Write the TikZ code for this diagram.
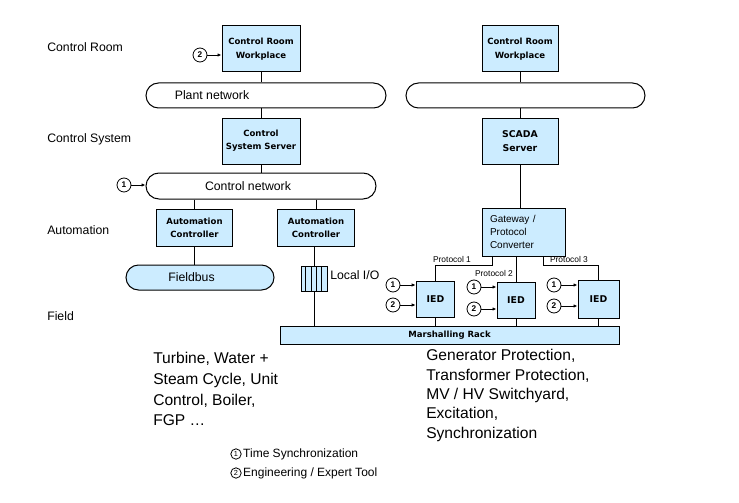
\documentclass[tikz,border=0pt]{standalone}
\usepackage{fontspec}
\setmainfont{Liberation Sans}
\newfontfamily\heavyfont{DejaVu Sans}
\usepackage{tikz}
\usetikzlibrary{arrows.meta,shapes.misc}
\definecolor{boxblue}{RGB}{204,236,255}
\newcommand{\boxfont}{\heavyfont\bfseries\fontsize{6.4}{10}\selectfont}
\newcommand{\lblfont}{\fontsize{9.2}{11}\selectfont}
\tikzset{
  unit/.style={draw, line width=0.75pt, fill=boxblue, align=center, font=\boxfont, inner sep=1pt},
  bigunit/.style={unit, minimum width=58.5pt, minimum height=34.5pt},
  ctlunit/.style={unit, minimum width=57.5pt, minimum height=27.75pt},
  iedunit/.style={unit, minimum width=29pt, minimum height=27pt, font=\heavyfont\bfseries\fontsize{7}{8}\selectfont},
  net/.style={draw, line width=0.75pt, rounded rectangle, inner sep=0pt},
  tag/.style={draw, circle, line width=0.6pt, inner sep=0pt, minimum size=10.5pt, font=\bfseries\fontsize{6.2}{7}\selectfont},
  smalltag/.style={tag, minimum size=7.8pt, font=\fontsize{5.5}{6}\selectfont},
  tagarrow/.style={-{Latex[length=3pt,width=2.6pt]}, line width=0.6pt},
  link/.style={line width=0.75pt},
}

\begin{document}
\begin{tikzpicture}[x=0.75pt, y=-0.75pt]
  \useasboundingbox (0,0) rectangle (739,503);
  % levels
  \draw (47,47) node[anchor=west, inner sep=0pt, font=\lblfont] (lvroom) {Control Room};
  \draw (47,139) node[anchor=west, inner sep=0pt, font=\lblfont] (lvsys) {Control System};
  \draw (47,230) node[anchor=west, inner sep=0pt, font=\lblfont] (lvauto) {Automation};
  \draw (47,316) node[anchor=west, inner sep=0pt, font=\lblfont] (lvfield) {Field};

  % left column
  \draw (261,49) node[bigunit] (crwA) {Control Room\\Workplace};
  \draw (266,95.5) node[net, minimum width=180pt, minimum height=18.75pt] (plantA) {};
  \draw (212,95.5) node[font=\lblfont] (plantAtxt) {Plant network};
  \draw (261,141) node[bigunit] (cssA) {Control\\System Server};
  \draw (261,186) node[net, minimum width=172.5pt, minimum height=19.5pt] (ctrlnet) {};
  \draw (248,186) node[font=\lblfont] (ctrlnettxt) {Control network};
  \draw (194.5,227.5) node[ctlunit] (acA) {Automation\\Controller};
  \draw (316,227.5) node[ctlunit] (acB) {Automation\\Controller};
  \draw (200,277.5) node[net, fill=boxblue, minimum width=111pt, minimum height=18.75pt] (fieldbus) {};
  \draw (191.5,277) node[font=\lblfont] (fieldbustxt) {Fieldbus};
  \draw (314,278.5) node[draw, line width=0.75pt, fill=boxblue, minimum width=19.5pt, minimum height=18.75pt, inner sep=0pt] (localio) {};
  \foreach \i in {1,...,4}
    \draw[line width=0.5pt] ([xshift=\i*3.9pt]localio.south west) -- ([xshift=\i*3.9pt]localio.north west);
  \draw (330,275) node[anchor=west, font=\lblfont, inner sep=0pt] (localiotxt) {Local I/O};

  % right column
  \draw (520,49) node[bigunit, minimum width=57pt] (crwB) {Control Room\\Workplace};
  \draw (525.5,95.5) node[net, minimum width=179.25pt, minimum height=18.75pt] (plantB) {};
  \draw (520,141) node[bigunit, minimum width=57pt, font=\heavyfont\bfseries\fontsize{7}{11}\selectfont] (scada) {SCADA\\Server};
  \draw (523.5,232) node[unit, font=\fontsize{7.5}{10}\selectfont, align=left, text width=50.25pt, inner xsep=6pt, minimum height=36pt] (gateway) {Gateway /\\Protocol\\Converter};
  \draw (435.5,299) node[iedunit] (iedA) {IED};
  \draw (516,300) node[iedunit, minimum width=28.5pt] (iedB) {IED};
  \draw (598.5,299) node[iedunit, minimum width=30.75pt, minimum height=28.5pt] (iedC) {IED};
  \draw (449.5,335) node[unit, minimum width=254.25pt, minimum height=13.5pt, inner sep=0pt] (rack) {Marshalling Rack};

  % connections
  \draw[link] (crwA.south) -- (crwA.south |- plantA.north);
  \draw[link] (cssA.north |- plantA.south) -- (cssA.north);
  \draw[link] (cssA.south) -- (cssA.south |- ctrlnet.north);
  \draw[link] (acA.north |- ctrlnet.south) -- (acA.north);
  \draw[link] (acB.north |- ctrlnet.south) -- (acB.north);
  \draw[link] (acA.south) -- (acA.south |- fieldbus.north);
  \draw[link] (localio.north |- acB.south) -- (localio.north);
  \draw[link] (localio.south) -- (localio.south |- rack.north);
  \draw[link] (crwB.south) -- (crwB.south |- plantB.north);
  \draw[link] (scada.north |- plantB.south) -- (scada.north);
  \draw[link] (scada.south) -- (scada.south |- gateway.north);
  \coordinate (p1) at (492,265);
  \coordinate (p3) at (543,265);
  \draw[link] (gateway.south -| p1) -- (p1) -| (iedA.north);
  \draw[link] (gateway.south -| iedB) -- (iedB.north);
  \draw[link] (gateway.south -| p3) -- (p3) -| (iedC.north);
  \draw (452,259) node[font=\fontsize{6.3}{7}\selectfont] (proto1) {Protocol 1};
  \draw (494,273) node[font=\fontsize{6.3}{7}\selectfont] (proto2) {Protocol 2};
  \draw (569,259) node[font=\fontsize{6.3}{7}\selectfont] (proto3) {Protocol 3};
  \draw[link] (iedA.south) -- (iedA.south |- rack.north);
  \draw[link] (iedB.south) -- (iedB.south |- rack.north);
  \draw[link] (iedC.south) -- (iedC.south |- rack.north);

  % sync / tool inputs
  \draw (200,55) node[tag] (t2crw) {2};
  \draw[tagarrow] (t2crw) -- (t2crw -| crwA.west);
  \draw (124,185) node[tag] (t1net) {1};
  \draw[tagarrow] (t1net) -- (t1net -| ctrlnet.west);
  \draw (393,285) node[tag] (t1iedA) {1};
  \draw (393,305) node[tag] (t2iedA) {2};
  \draw (474,287) node[tag] (t1iedB) {1};
  \draw (474,309) node[tag] (t2iedB) {2};
  \draw (554,285) node[tag] (t1iedC) {1};
  \draw (554,306) node[tag] (t2iedC) {2};
  \draw[tagarrow] (t1iedA) -- (t1iedA -| iedA.west);
  \draw[tagarrow] (t2iedA) -- (t2iedA -| iedA.west);
  \draw[tagarrow] (t1iedB) -- (t1iedB -| iedB.west);
  \draw[tagarrow] (t2iedB) -- (t2iedB -| iedB.west);
  \draw[tagarrow] (t1iedC) -- (t1iedC -| iedC.west);
  \draw[tagarrow] (t2iedC) -- (t2iedC -| iedC.west);

  % scopes
  \draw (153,352) node[anchor=north west, inner sep=0pt, align=left, font=\fontsize{11.7}{15.6}\selectfont] (plantscope) {Turbine, Water +\\Steam Cycle, Unit\\Control, Boiler,\\FGP \dots};
  \draw (426,349) node[anchor=north west, inner sep=0pt, align=left, font=\fontsize{11.7}{14.6}\selectfont] (elecscope) {Generator Protection,\\Transformer Protection,\\MV / HV Switchyard,\\Excitation,\\Synchronization};

  % legend
  \draw (236,454) node[smalltag] (leg1) {1};
  \draw (leg1.east) node[anchor=west, inner sep=1pt, font=\fontsize{9}{11}\selectfont] (leg1txt) {Time Synchronization};
  \draw (236,473) node[smalltag] (leg2) {2};
  \draw (leg2.east) node[anchor=west, inner sep=1pt, font=\fontsize{9}{11}\selectfont] (leg2txt) {Engineering / Expert Tool};
\end{tikzpicture}
\end{document}
